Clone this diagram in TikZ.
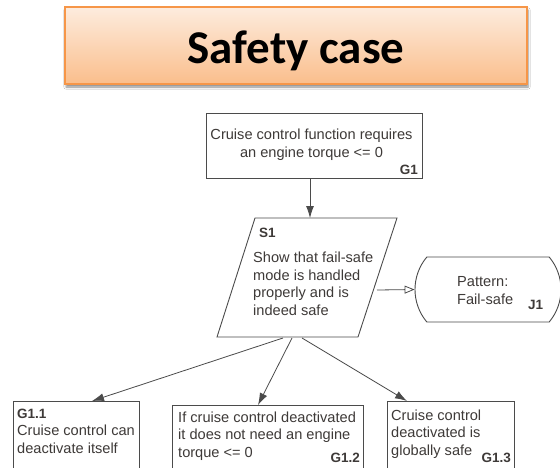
\documentclass[tikz,border=0pt]{standalone}
\usepackage{fontspec}
\setmainfont{Liberation Sans}
\newfontfamily\titlefont{Carlito}
\usetikzlibrary{arrows.meta,shapes.misc,shadows.blur}

\definecolor{ink}{RGB}{62,58,56}
\definecolor{edge}{RGB}{75,75,75}
\definecolor{titletop}{RGB}{253,236,222}
\definecolor{titlebot}{RGB}{250,190,140}
\definecolor{titleline}{RGB}{246,150,72}

\tikzset{
  body/.style={font=\fontsize{14.6}{17.5}\selectfont, text=ink, inner sep=0pt, align=left},
  tag/.style={font=\bfseries\fontsize{13.5}{16}\selectfont, text=ink, inner sep=0pt},
  goalbox/.style={draw=edge, line width=0.9pt, fill=white},
  link/.style={draw=edge, line width=0.8pt, -{Latex[length=12pt,width=8pt]}},
  ctxlink/.style={draw=edge, line width=0.8pt, -{Triangle[open,length=10pt,width=8pt]}},
}

\begin{document}
\begin{tikzpicture}[x=1pt,y=-1pt]
  \useasboundingbox (0,0) rectangle (560,467);
  \clip (0,0) rectangle (560,467);
  \fill[white] (0,0) rectangle (560,467);

  % heading banner
  \node[draw=titleline, line width=1.4pt, top color=titletop, bottom color=titlebot,
        minimum width=462pt, minimum height=77pt, inner sep=0pt,
        blur shadow={shadow xshift=1pt, shadow yshift=-3pt, shadow blur steps=6, shadow opacity=45}]
        (banner) at (296,45.5) {};
  \node[anchor=base, inner sep=0pt, font=\titlefont\bfseries\fontsize{47}{50}\selectfont]
        (heading) at (296,63) {Safety case};

  % top goal G1 (multi-line texts are anchored at their last baseline)
  \node[goalbox, minimum width=216pt, minimum height=65pt, inner sep=0pt] (G1) at (314,145.5) {};
  \node[body, align=center, anchor=base] (G1text) at (311.5,157)
        {Cruise control function requires\\an engine torque <= 0};
  \node[tag, anchor=base east] (G1tag) at (418,174) {G1};

  % strategy S1 (parallelogram)
  \coordinate (S1tl) at (255,218);
  \coordinate (S1tr) at (397,218);
  \coordinate (S1br) at (358,337);
  \coordinate (S1bl) at (217,337);
  \draw[goalbox] (S1tl) -- (S1tr) -- (S1br) -- (S1bl) -- cycle;
  \coordinate (S1top) at (310,218);
  \coordinate (S1right) at (377,290);
  \coordinate (S1outA) at (283,338);
  \coordinate (S1outB) at (292,338);
  \coordinate (S1outC) at (302,338);
  \node[tag, anchor=base west] (S1tag) at (259,237) {S1};
  \node[body, anchor=base west] (S1text) at (253,315)
        {Show that fail-safe\\mode is handled\\properly and is\\indeed safe};

  % justification J1
  \node[draw=edge, line width=0.9pt, fill=white, rounded rectangle,
        rounded rectangle arc length=80, minimum width=146pt, minimum height=65pt,
        inner sep=0pt] (J1) at (488,289.5) {};
  \node[body, anchor=base west] (J1text) at (457,304) {Pattern:\\Fail-safe};
  \node[tag, anchor=base west] (J1tag) at (528,309) {J1};

  % sub-goals
  \node[goalbox, anchor=north west, minimum width=126pt, minimum height=80pt, inner sep=0pt] (G11) at (13,401) {};
  \node[tag, anchor=base west] (G11tag) at (17,418) {G1.1};
  \node[body, anchor=base west] (G11text) at (17,453) {Cruise control can\\deactivate itself};

  \node[goalbox, anchor=north west, minimum width=191pt, minimum height=80pt, inner sep=0pt] (G12) at (172,405) {};
  \node[body, anchor=base west] (G12text) at (178,457)
        {If cruise control deactivated\\it does not need an engine\\torque <= 0};
  \node[tag, anchor=base east] (G12tag) at (360,462) {G1.2};

  \node[goalbox, anchor=north west, minimum width=127pt, minimum height=80pt, inner sep=0pt] (G13) at (387,401) {};
  \node[body, anchor=base west] (G13text) at (391,455)
        {Cruise control\\deactivated is\\globally safe};
  \node[tag, anchor=base east] (G13tag) at (511,462) {G1.3};

  % connectors
  \draw[link] (G1.south -| S1top) -- (S1top);
  \draw[ctxlink] (S1right) -- (J1.west);
  \draw[link] (S1outA) -- (G11.north -| 92,0);
  \draw[link] (S1outB) -- (G12.north -| 258,0);
  \draw[link] (S1outC) -- (G13.north -| 407,0);
\end{tikzpicture}
\end{document}
